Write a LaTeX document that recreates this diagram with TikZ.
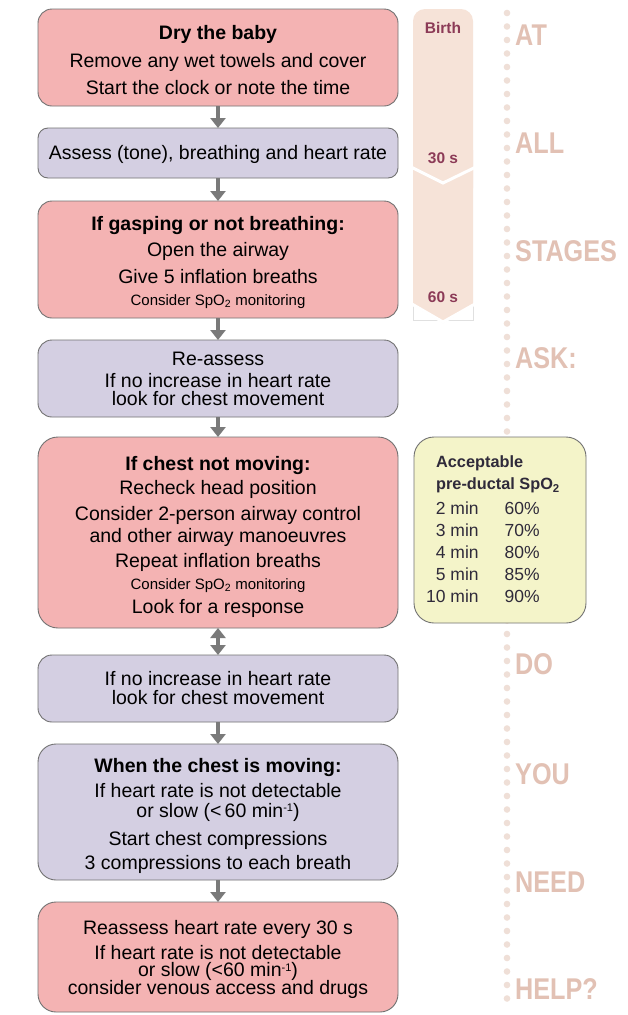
\documentclass[tikz,border=0pt]{standalone}
\usepackage{fontspec}
\setmainfont{Liberation Sans}
\usetikzlibrary{arrows.meta}
\definecolor{pinkfill}{HTML}{F4B3B3}
\definecolor{lavfill}{HTML}{D4CFE2}
\definecolor{boxline}{HTML}{727272}
\definecolor{arrgray}{HTML}{7A7A7A}
\definecolor{tlfill}{HTML}{F6E3D8}
\definecolor{tltext}{HTML}{8C3B57}
\definecolor{bigc}{HTML}{E2C1B4}
\definecolor{dotc}{HTML}{EFDFD7}
\definecolor{spofill}{HTML}{F4F4C9}
\definecolor{spotxt}{HTML}{2F2A3A}
\newcommand\smallt{\fontsize{15}{16}\selectfont}
\newcommand\minusone{\raisebox{5.5pt}{\fontsize{11}{11}\selectfont -1}}
\begin{document}
\begin{tikzpicture}[x=1pt,y=-1pt,
  box/.style={draw=boxline, line width=0.9pt, rounded corners=14pt, minimum width=360pt,
    inner sep=0pt, outer sep=0pt},
  pinkbox/.style={box, fill=pinkfill},
  lavbox/.style={box, fill=lavfill},
  btext/.style={align=center, inner sep=0pt, font=\fontsize{19.5}{18}\selectfont, text=black},
  arr/.style={draw=arrgray, line width=3.5pt, -{Triangle[width=15pt,length=10pt]}},
  darr/.style={draw=arrgray, line width=3.5pt, {Triangle[width=15pt,length=10pt]}-{Triangle[width=15pt,length=10pt]}},
  bigw/.style={anchor=west, inner sep=0pt, font=\bfseries\fontsize{30}{30}\selectfont, text=bigc},
  tlt/.style={inner sep=0pt, font=\bfseries\fontsize{15.5}{16}\selectfont, text=tltext},
  spobox/.style={draw=boxline, line width=0.9pt, fill=spofill, rounded corners=20pt,
    minimum width=172pt, minimum height=186pt, inner sep=0pt},
  spot/.style={inner sep=0pt, text=spotxt, font=\fontsize{17.5}{22}\selectfont}
]
\useasboundingbox (0,0) rectangle (627,1015);
\fill[white] (0,0) rectangle (627,1015);

% timeline bar
\fill[tlfill, rounded corners=12pt] (413,9) rectangle (473,200);
\fill[tlfill] (413,150) -- (473,150) -- (473,305) -- (443,323) -- (413,305) -- cycle;
\draw[black!12, line width=0.6pt] (413,306) -- (413,320) -- (473,320) -- (473,306);
\draw[white, line width=3pt] (405,164) -- (443,183) -- (482,164);
\draw[white, line width=3pt] (405,300) -- (443,322) -- (482,300);
\node[tlt] (birth) at (443,28) {Birth};
\node[tlt] (t30) at (443,158) {30 s};
\node[tlt] (t60) at (443,297) {60 s};

% dotted line
\foreach \i in {0,...,73} \fill[dotc] (507,13+\i*13.5) circle (3.3pt);

% big words
\node[bigw] (w1) at (515,35) {\scalebox{0.84}[1]{AT}};
\node[bigw] (w2) at (515,143) {\scalebox{0.84}[1]{ALL}};
\node[bigw] (w3) at (515,251) {\scalebox{0.84}[1]{STAGES}};
\node[bigw] (w4) at (515,358) {\scalebox{0.84}[1]{ASK:}};
\node[bigw] (w5) at (515,664) {\scalebox{0.84}[1]{DO}};
\node[bigw] (w6) at (515,774) {\scalebox{0.84}[1]{YOU}};
\node[bigw] (w7) at (515,882) {\scalebox{0.84}[1]{NEED}};
\node[bigw] (w8) at (515,989) {\scalebox{0.84}[1]{HELP?}};

% boxes
\node[pinkbox, minimum height=97pt] (b1) at (218,57.5) {};
\node[btext] (b1t) at (218,60)
  {\textbf{Dry the baby}\\[9pt]Remove any wet towels and cover\\[7pt]Start the clock or note the time};
\node[lavbox, minimum height=50pt, rounded corners=10pt] (b2) at (218,153) {};
\node[btext] (b2t) at (218,154) {Assess (tone), breathing and heart rate};
\node[pinkbox, minimum height=117pt] (b3) at (218,259.5) {};
\node[btext] (b3t) at (218,262.5)
  {\textbf{If gasping or not breathing:}\\[6pt]Open the airway\\[8pt]Give 5 inflation breaths\\[4pt]{\smallt Consider SpO\textsubscript{2} monitoring}};
\node[lavbox, minimum height=77pt] (b4) at (218,378.5) {};
\node[btext] (b4t) at (218,378.5)
  {Re-assess\\[4pt]If no increase in heart rate\\[0pt]look for chest movement};
\node[pinkbox, minimum height=191pt, rounded corners=20pt] (b5) at (218,532.5) {};
\node[btext] (b5t) at (218,537)
  {\textbf{If chest not moving:}\\[5pt]Recheck head position\\[6pt]Consider 2-person airway control\\[3pt]and other airway manoeuvres\\[6pt]Repeat inflation breaths\\[4pt]{\smallt Consider SpO\textsubscript{2} monitoring}\\[6pt]Look for a response};
\node[lavbox, minimum height=67pt] (b6) at (218,688.5) {};
\node[btext] (b6t) at (218,688.5)
  {If no increase in heart rate\\[1pt]look for chest movement};
\node[lavbox, minimum height=136pt, rounded corners=18pt] (b7) at (218,812) {};
\node[btext] (b7t) at (218,816)
  {\textbf{When the chest is moving:}\\[5pt]If heart rate is not detectable\\[2pt]or slow (<\,60 min\minusone)\\[9pt]Start chest compressions\\[5pt]3 compressions to each breath};
\node[pinkbox, minimum height=110pt, rounded corners=18pt] (b8) at (218,957) {};
\node[btext] (b8t) at (218,959.5)
  {Reassess heart rate every 30 s\\[6pt]If heart rate is not detectable\\[-1pt]or slow (<60 min\minusone)\\[-1pt]consider venous access and drugs};

% connectors
\draw[arr] (b1.south) -- (b2.north);
\draw[arr] (b2.south) -- (b3.north);
\draw[arr] (b3.south) -- (b4.north);
\draw[arr] (b4.south) -- (b5.north);
\draw[darr] (b5.south) -- (b6.north);
\draw[arr] (b6.south) -- (b7.north);
\draw[arr] (b7.south) -- (b8.north);

% SpO2 box
\node[spobox] (spo) at (500,530) {};
\node[spot] (spotab) at (493,531) {\begin{tabular}{@{}r@{\hspace{26pt}}l@{}}
\multicolumn{2}{@{\hspace{10pt}}l@{}}{\fontsize{16.3}{21}\selectfont\bfseries Acceptable}\\
\multicolumn{2}{@{\hspace{10pt}}l@{}}{\fontsize{16.3}{21}\selectfont\bfseries pre-ductal SpO\textsubscript{2}}\\[3pt]
2 min & 60\%\\
3 min & 70\%\\
4 min & 80\%\\
5 min & 85\%\\
10 min & 90\%
\end{tabular}};
\end{tikzpicture}
\end{document}
